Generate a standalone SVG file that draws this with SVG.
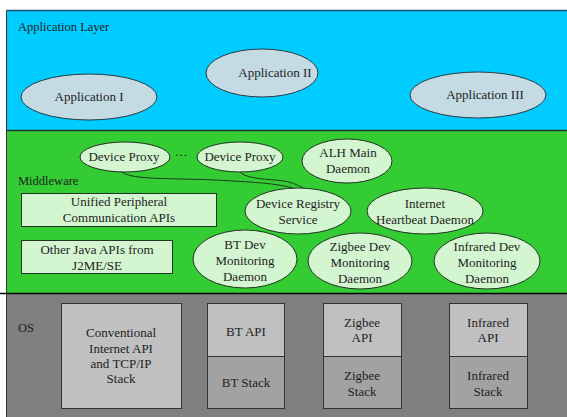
<svg xmlns="http://www.w3.org/2000/svg" width="567" height="417" viewBox="0 0 567 417">
  <style>
    text { font-family: "Liberation Serif", "Times New Roman", serif; font-size: 13px; fill: #1e1e1e; text-anchor: middle; }
    .lbl { text-anchor: start; font-size: 12.5px; }
    .app { fill: #c4dbe3; stroke: #2a3a44; stroke-width: 1; }
    .mw { fill: #d3f5d0; stroke: #233323; stroke-width: 1; }
    .apiTop { fill: #c0c0c0; stroke: #333; stroke-width: 1; }
    .apiBot { fill: #a2a2a2; stroke: #333; stroke-width: 1; }
    .wire { fill: none; stroke: #1d3a1d; stroke-width: 1; }
  </style>

  <!-- layer bands -->
  <g id="layers">
    <rect x="6.5" y="10.5" width="561" height="120" fill="#00ccff"/>
    <rect x="6.5" y="130.5" width="561" height="163" fill="#33cc33"/>
    <rect x="6.5" y="293.5" width="561" height="124" fill="#808080"/>
    <line x1="6.5" y1="10.5" x2="567" y2="10.5" stroke="#1f4f6f" stroke-width="1.5"/>
    <line x1="6.5" y1="10.5" x2="6.5" y2="417" stroke="#333" stroke-width="1"/>
    <line x1="6.5" y1="130.5" x2="567" y2="130.5" stroke="#1d3a2a" stroke-width="1.5"/>
    <line x1="0" y1="293.5" x2="567" y2="293.5" stroke="#000" stroke-width="1.5"/>
    <text class="lbl" x="18" y="31">Application Layer</text>
    <text class="lbl" x="18" y="185">Middleware</text>
    <text class="lbl" x="18" y="332">OS</text>
  </g>

  <!-- connectors -->
  <g id="connectors">
    <path class="wire" d="M122,172 C132,180 170,178 215,180 C250,182 278,183 296,189"/>
    <path class="wire" d="M240,172 C246,179 268,179 284,181 C294,183 300,186 303,188"/>
  </g>

  <!-- application layer -->
  <g id="app1"><ellipse class="app" cx="89" cy="97" rx="68" ry="23"/><text x="89" y="101">Application I</text></g>
  <g id="app2"><ellipse class="app" cx="262" cy="73" rx="56" ry="24"/><text x="275" y="77">Application II</text></g>
  <g id="app3"><ellipse class="app" cx="478" cy="95" rx="68" ry="23"/><text x="485" y="99">Application III</text></g>

  <!-- middleware -->
  <g id="proxy1"><ellipse class="mw" cx="125" cy="157" rx="45" ry="15"/><text x="124" y="161">Device Proxy</text></g>
  <g id="dots"><text x="181" y="159">···</text></g>
  <g id="proxy2"><ellipse class="mw" cx="240" cy="157" rx="43" ry="15"/><text x="240" y="161">Device Proxy</text></g>
  <g id="alh"><ellipse class="mw" cx="347" cy="161" rx="45" ry="22"/><text x="348" y="157">ALH Main</text><text x="348" y="173">Daemon</text></g>
  <g id="registry"><ellipse class="mw" cx="298" cy="211" rx="53" ry="23"/><text x="298" y="208">Device Registry</text><text x="298" y="224">Service</text></g>
  <g id="heartbeat"><ellipse class="mw" cx="425" cy="211" rx="58" ry="23"/><text x="425" y="208">Internet</text><text x="425" y="224">Heartbeat Daemon</text></g>
  <g id="unified"><rect class="mw" x="21.5" y="193.5" width="195" height="33"/><text x="119" y="206">Unified Peripheral</text><text x="119" y="222">Communication APIs</text></g>
  <g id="java"><rect class="mw" x="21.5" y="240.5" width="151" height="33"/><text x="97" y="254">Other Java APIs from</text><text x="97" y="270">J2ME/SE</text></g>
  <g id="btmon"><ellipse class="mw" cx="245" cy="259" rx="52" ry="29"/><text x="245" y="249">BT Dev</text><text x="245" y="265">Monitoring</text><text x="245" y="281">Daemon</text></g>
  <g id="zbmon"><ellipse class="mw" cx="360" cy="261" rx="52" ry="28"/><text x="360" y="251">Zigbee Dev</text><text x="360" y="267">Monitoring</text><text x="360" y="283">Daemon</text></g>
  <g id="irmon"><ellipse class="mw" cx="487" cy="261" rx="53" ry="28"/><text x="487" y="251">Infrared Dev</text><text x="487" y="267">Monitoring</text><text x="487" y="283">Daemon</text></g>

  <!-- OS layer -->
  <g id="tcpip"><rect class="apiTop" x="61.5" y="303.5" width="120" height="105"/><text x="121" y="337">Conventional</text><text x="121" y="353">Internet API</text><text x="121" y="368">and TCP/IP</text><text x="121" y="383">Stack</text></g>
  <g id="bt"><rect class="apiTop" x="207.5" y="303.5" width="77" height="53"/><rect class="apiBot" x="207.5" y="356.5" width="77" height="52"/><text x="246" y="336">BT API</text><text x="246" y="387">BT Stack</text></g>
  <g id="zigbee"><rect class="apiTop" x="323.5" y="303.5" width="78" height="53"/><rect class="apiBot" x="323.5" y="356.5" width="78" height="52"/><text x="362" y="327">Zigbee</text><text x="362" y="342">API</text><text x="362" y="380">Zigbee</text><text x="362" y="396">Stack</text></g>
  <g id="infrared"><rect class="apiTop" x="449.5" y="303.5" width="78" height="53"/><rect class="apiBot" x="449.5" y="356.5" width="78" height="52"/><text x="488" y="327">Infrared</text><text x="488" y="342">API</text><text x="488" y="380">Infrared</text><text x="488" y="396">Stack</text></g>
</svg>
